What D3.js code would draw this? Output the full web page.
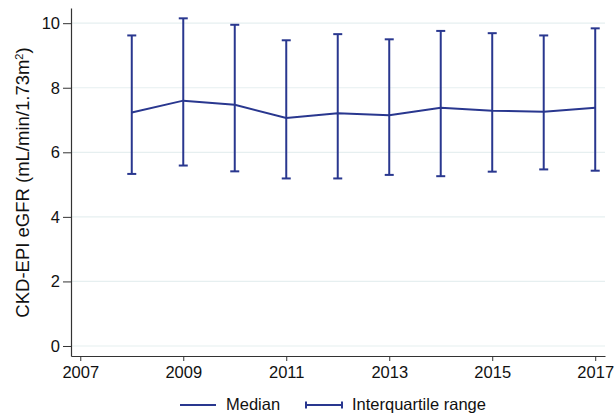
<!DOCTYPE html>
<html>
<head>
<meta charset="utf-8">
<script src="https://cdn.jsdelivr.net/npm/d3@7"></script>
<style>
  body { margin: 0; background: #fff; }
  text { font-family: "Liberation Sans", Arial, sans-serif; fill: #111; }
</style>
</head>
<body>
<svg id="chart"></svg>
<script>
const years = [2008, 2009, 2010, 2011, 2012, 2013, 2014, 2015, 2016, 2017];
const median = [7.23, 7.60, 7.47, 7.06, 7.21, 7.15, 7.38, 7.29, 7.26, 7.38];
const q1 = [5.33, 5.59, 5.41, 5.19, 5.19, 5.30, 5.26, 5.40, 5.47, 5.43];
const q3 = [9.62, 10.15, 9.95, 9.47, 9.66, 9.50, 9.76, 9.69, 9.62, 9.84];
const xTicks = [2007, 2009, 2011, 2013, 2015, 2017];
const yTicks = [0, 2, 4, 6, 8, 10];

const width = 614, height = 414;
const plot = { left: 71, right: 605, top: 8, bottom: 356 };
const color = "#29378f";

const svg = d3.select("#chart")
    .attr("width", width)
    .attr("height", height);

const x = d3.scaleLinear().domain([2006.82, 2017.19]).range([plot.left, plot.right]);
const y = d3.scaleLinear().domain([-0.31, 10.47]).range([plot.bottom, plot.top]);

// gridlines
svg.append("g")
    .selectAll("line")
    .data(yTicks)
    .join("line")
    .attr("x1", plot.left)
    .attr("x2", plot.right)
    .attr("y1", d => y(d))
    .attr("y2", d => y(d))
    .attr("stroke", "#e6eff0")
    .attr("stroke-width", 1.2);

const xAxis = svg.append("g")
    .attr("transform", `translate(0, ${plot.bottom})`)
    .call(d3.axisBottom(x).tickValues(xTicks).tickFormat(d3.format("d")).tickSize(5).tickPadding(5).tickSizeOuter(0));

const yAxis = svg.append("g")
    .attr("transform", `translate(${plot.left}, 0)`)
    .call(d3.axisLeft(y).tickValues(yTicks).tickSize(8).tickPadding(3).tickSizeOuter(0));

[xAxis, yAxis].forEach(g => {
    g.select(".domain").attr("stroke", "#333").attr("stroke-width", 1.2);
    g.selectAll(".tick line").attr("stroke", "#333");
    g.selectAll(".tick text")
        .style("font-family", "'Liberation Sans', Arial, sans-serif")
        .style("font-size", "16.5px")
        .attr("fill", "#111");
});

// y title
const title = svg.append("text")
    .attr("transform", `translate(28.5, 182.5) rotate(-90)`)
    .attr("text-anchor", "middle")
    .style("font-size", "18.5px");
title.append("tspan").text("CKD-EPI eGFR (mL/min/1.73m");
title.append("tspan").text("2").attr("baseline-shift", "super").style("font-size", "11px");
title.append("tspan").text(")");

// error bars
const capW = 4.5;
const bars = svg.append("g").attr("stroke", color).attr("stroke-width", 2).attr("fill", "none");
years.forEach((yr, i) => {
    const cx = x(yr);
    bars.append("line").attr("x1", cx).attr("x2", cx).attr("y1", y(q1[i])).attr("y2", y(q3[i]));
    bars.append("line").attr("x1", cx - capW).attr("x2", cx + capW).attr("y1", y(q1[i])).attr("y2", y(q1[i]));
    bars.append("line").attr("x1", cx - capW).attr("x2", cx + capW).attr("y1", y(q3[i])).attr("y2", y(q3[i]));
});

// median line
svg.append("path")
    .datum(years.map((yr, i) => [yr, median[i]]))
    .attr("fill", "none")
    .attr("stroke", color)
    .attr("stroke-width", 2)
    .attr("d", d3.line().x(d => x(d[0])).y(d => y(d[1])));

// legend
const legY = 405;
const legend = svg.append("g").attr("stroke", color).attr("stroke-width", 2);
legend.append("line").attr("x1", 180).attr("x2", 216).attr("y1", legY).attr("y2", legY);
legend.append("line").attr("x1", 305).attr("x2", 343).attr("y1", legY).attr("y2", legY);
legend.append("line").attr("x1", 306).attr("x2", 306).attr("y1", legY - 3.5).attr("y2", legY + 3.5);
legend.append("line").attr("x1", 342).attr("x2", 342).attr("y1", legY - 3.5).attr("y2", legY + 3.5);

svg.append("text").attr("x", 226).attr("y", 410).style("font-size", "16.5px").text("Median");
svg.append("text").attr("x", 352).attr("y", 410).style("font-size", "16.5px").text("Interquartile range");
</script>
</body>
</html>
